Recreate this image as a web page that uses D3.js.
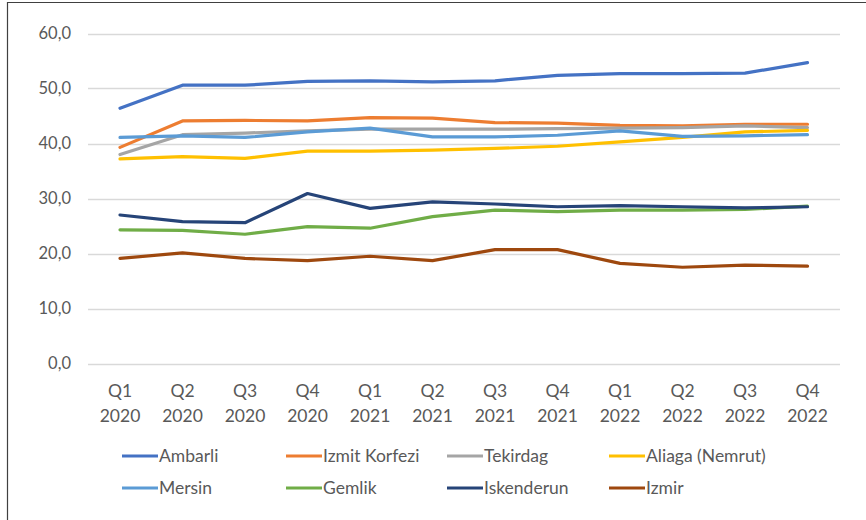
<!DOCTYPE html>
<html>
<head>
<meta charset="utf-8">
<script src="https://cdn.jsdelivr.net/npm/d3@7"></script>
<style>
  html, body { margin: 0; padding: 0; background: #fff; }
  svg { display: block; font-family: Lato, "Open Sans", sans-serif; }
</style>
</head>
<body>
<svg id="chart" width="866" height="520"></svg>
<script>
// Quarter labels (two lines each)
const quarters = ["Q1", "Q2", "Q3", "Q4", "Q1", "Q2", "Q3", "Q4", "Q1", "Q2", "Q3", "Q4"];
const years = ["2020", "2020", "2020", "2020", "2021", "2021", "2021", "2021", "2022", "2022", "2022", "2022"];
const yTicks = [0, 10, 20, 30, 40, 50, 60];

// Series values by port
const ambarli    = [46.4, 50.6, 50.6, 51.3, 51.4, 51.2, 51.4, 52.4, 52.7, 52.7, 52.8, 54.7];
const izmit      = [39.3, 44.1, 44.2, 44.1, 44.7, 44.6, 43.8, 43.7, 43.3, 43.2, 43.5, 43.5];
const tekirdag   = [38.0, 41.6, 41.9, 42.3, 42.6, 42.6, 42.6, 42.7, 42.8, 42.9, 43.2, 42.9];
const aliaga     = [37.2, 37.6, 37.3, 38.6, 38.6, 38.8, 39.1, 39.5, 40.3, 41.1, 42.1, 42.4];
const mersin     = [41.1, 41.4, 41.1, 42.1, 42.8, 41.2, 41.2, 41.5, 42.3, 41.3, 41.4, 41.6];
const gemlik     = [24.3, 24.2, 23.5, 24.9, 24.6, 26.7, 27.9, 27.6, 27.9, 27.9, 28.0, 28.6];
const iskenderun = [27.0, 25.8, 25.6, 30.9, 28.2, 29.4, 29.0, 28.5, 28.7, 28.5, 28.3, 28.5];
const izmir      = [19.1, 20.1, 19.1, 18.7, 19.5, 18.7, 20.7, 20.7, 18.2, 17.5, 17.9, 17.7];

const seriesNames  = ["Ambarli", "Izmit Korfezi", "Tekirdag", "Aliaga (Nemrut)", "Mersin", "Gemlik", "Iskenderun", "Izmir"];
const seriesValues = [ambarli, izmit, tekirdag, aliaga, mersin, gemlik, iskenderun, izmir];
const seriesColors = ["#4472C4", "#ED7D31", "#A5A5A5", "#FFC000", "#5B9BD5", "#70AD47", "#264478", "#9E480E"];

const svg = d3.select("#chart");
const textColor = "#595959";

// Frame lines along the left and top edges
svg.append("path")
  .attr("d", "M7.5,520 L7.5,2.5 L866,2.5")
  .attr("fill", "none")
  .attr("stroke", "#404040")
  .attr("stroke-width", 1.2);

const plot = { left: 88, right: 840, top: 33.5, bottom: 363.5 };

const x = d3.scalePoint()
  .domain(d3.range(quarters.length))
  .range([120, 807.5]);

const y = d3.scaleLinear()
  .domain([0, 60])
  .range([plot.bottom, plot.top]);

// Horizontal gridlines
svg.append("g")
  .selectAll("line")
  .data(yTicks)
  .join("line")
  .attr("x1", plot.left)
  .attr("x2", plot.right)
  .attr("y1", d => Math.round(y(d)) + 0.5)
  .attr("y2", d => Math.round(y(d)) + 0.5)
  .attr("stroke", "#d9d9d9")
  .attr("stroke-width", 1.3);

// Y axis labels
const fmt = d => d3.format(".1f")(d).replace(".", ",");
svg.append("g")
  .selectAll("text")
  .data(yTicks)
  .join("text")
  .attr("x", 71)
  .attr("y", d => y(d))
  .attr("dy", "0.35em")
  .attr("text-anchor", "end")
  .attr("fill", textColor)
  .attr("font-size", 16.5)
  .text(fmt);

// X axis labels
const xl = svg.append("g")
  .selectAll("text")
  .data(d3.range(quarters.length))
  .join("text")
  .attr("x", d => x(d))
  .attr("text-anchor", "middle")
  .attr("fill", textColor)
  .attr("font-size", 17.5);
xl.append("tspan").attr("x", d => x(d)).attr("y", 397).text(d => quarters[d]);
xl.append("tspan").attr("x", d => x(d)).attr("y", 422).text(d => years[d]);

// Lines
const line = d3.line()
  .x((d, i) => x(i))
  .y(d => y(d));

svg.append("g")
  .selectAll("path")
  .data(seriesValues)
  .join("path")
  .attr("d", line)
  .attr("fill", "none")
  .attr("stroke", (d, i) => seriesColors[i])
  .attr("stroke-width", 3.2)
  .attr("stroke-linejoin", "round")
  .attr("stroke-linecap", "round");

// Legend: 4 columns x 2 rows
const legendCols = [122, 286, 447, 609];
const legendRows = [456, 488];
const lg = svg.append("g")
  .selectAll("g")
  .data(seriesNames)
  .join("g")
  .attr("transform", (d, i) => `translate(${legendCols[i % 4]},${legendRows[Math.floor(i / 4)]})`);
lg.append("line")
  .attr("x1", 0).attr("x2", 36)
  .attr("y1", 0).attr("y2", 0)
  .attr("stroke", (d, i) => seriesColors[i])
  .attr("stroke-width", 3.2);
lg.append("text")
  .attr("x", 37)
  .attr("dy", "0.35em")
  .attr("fill", textColor)
  .attr("font-size", 17.5)
  .text(d => d);
</script>
</body>
</html>
